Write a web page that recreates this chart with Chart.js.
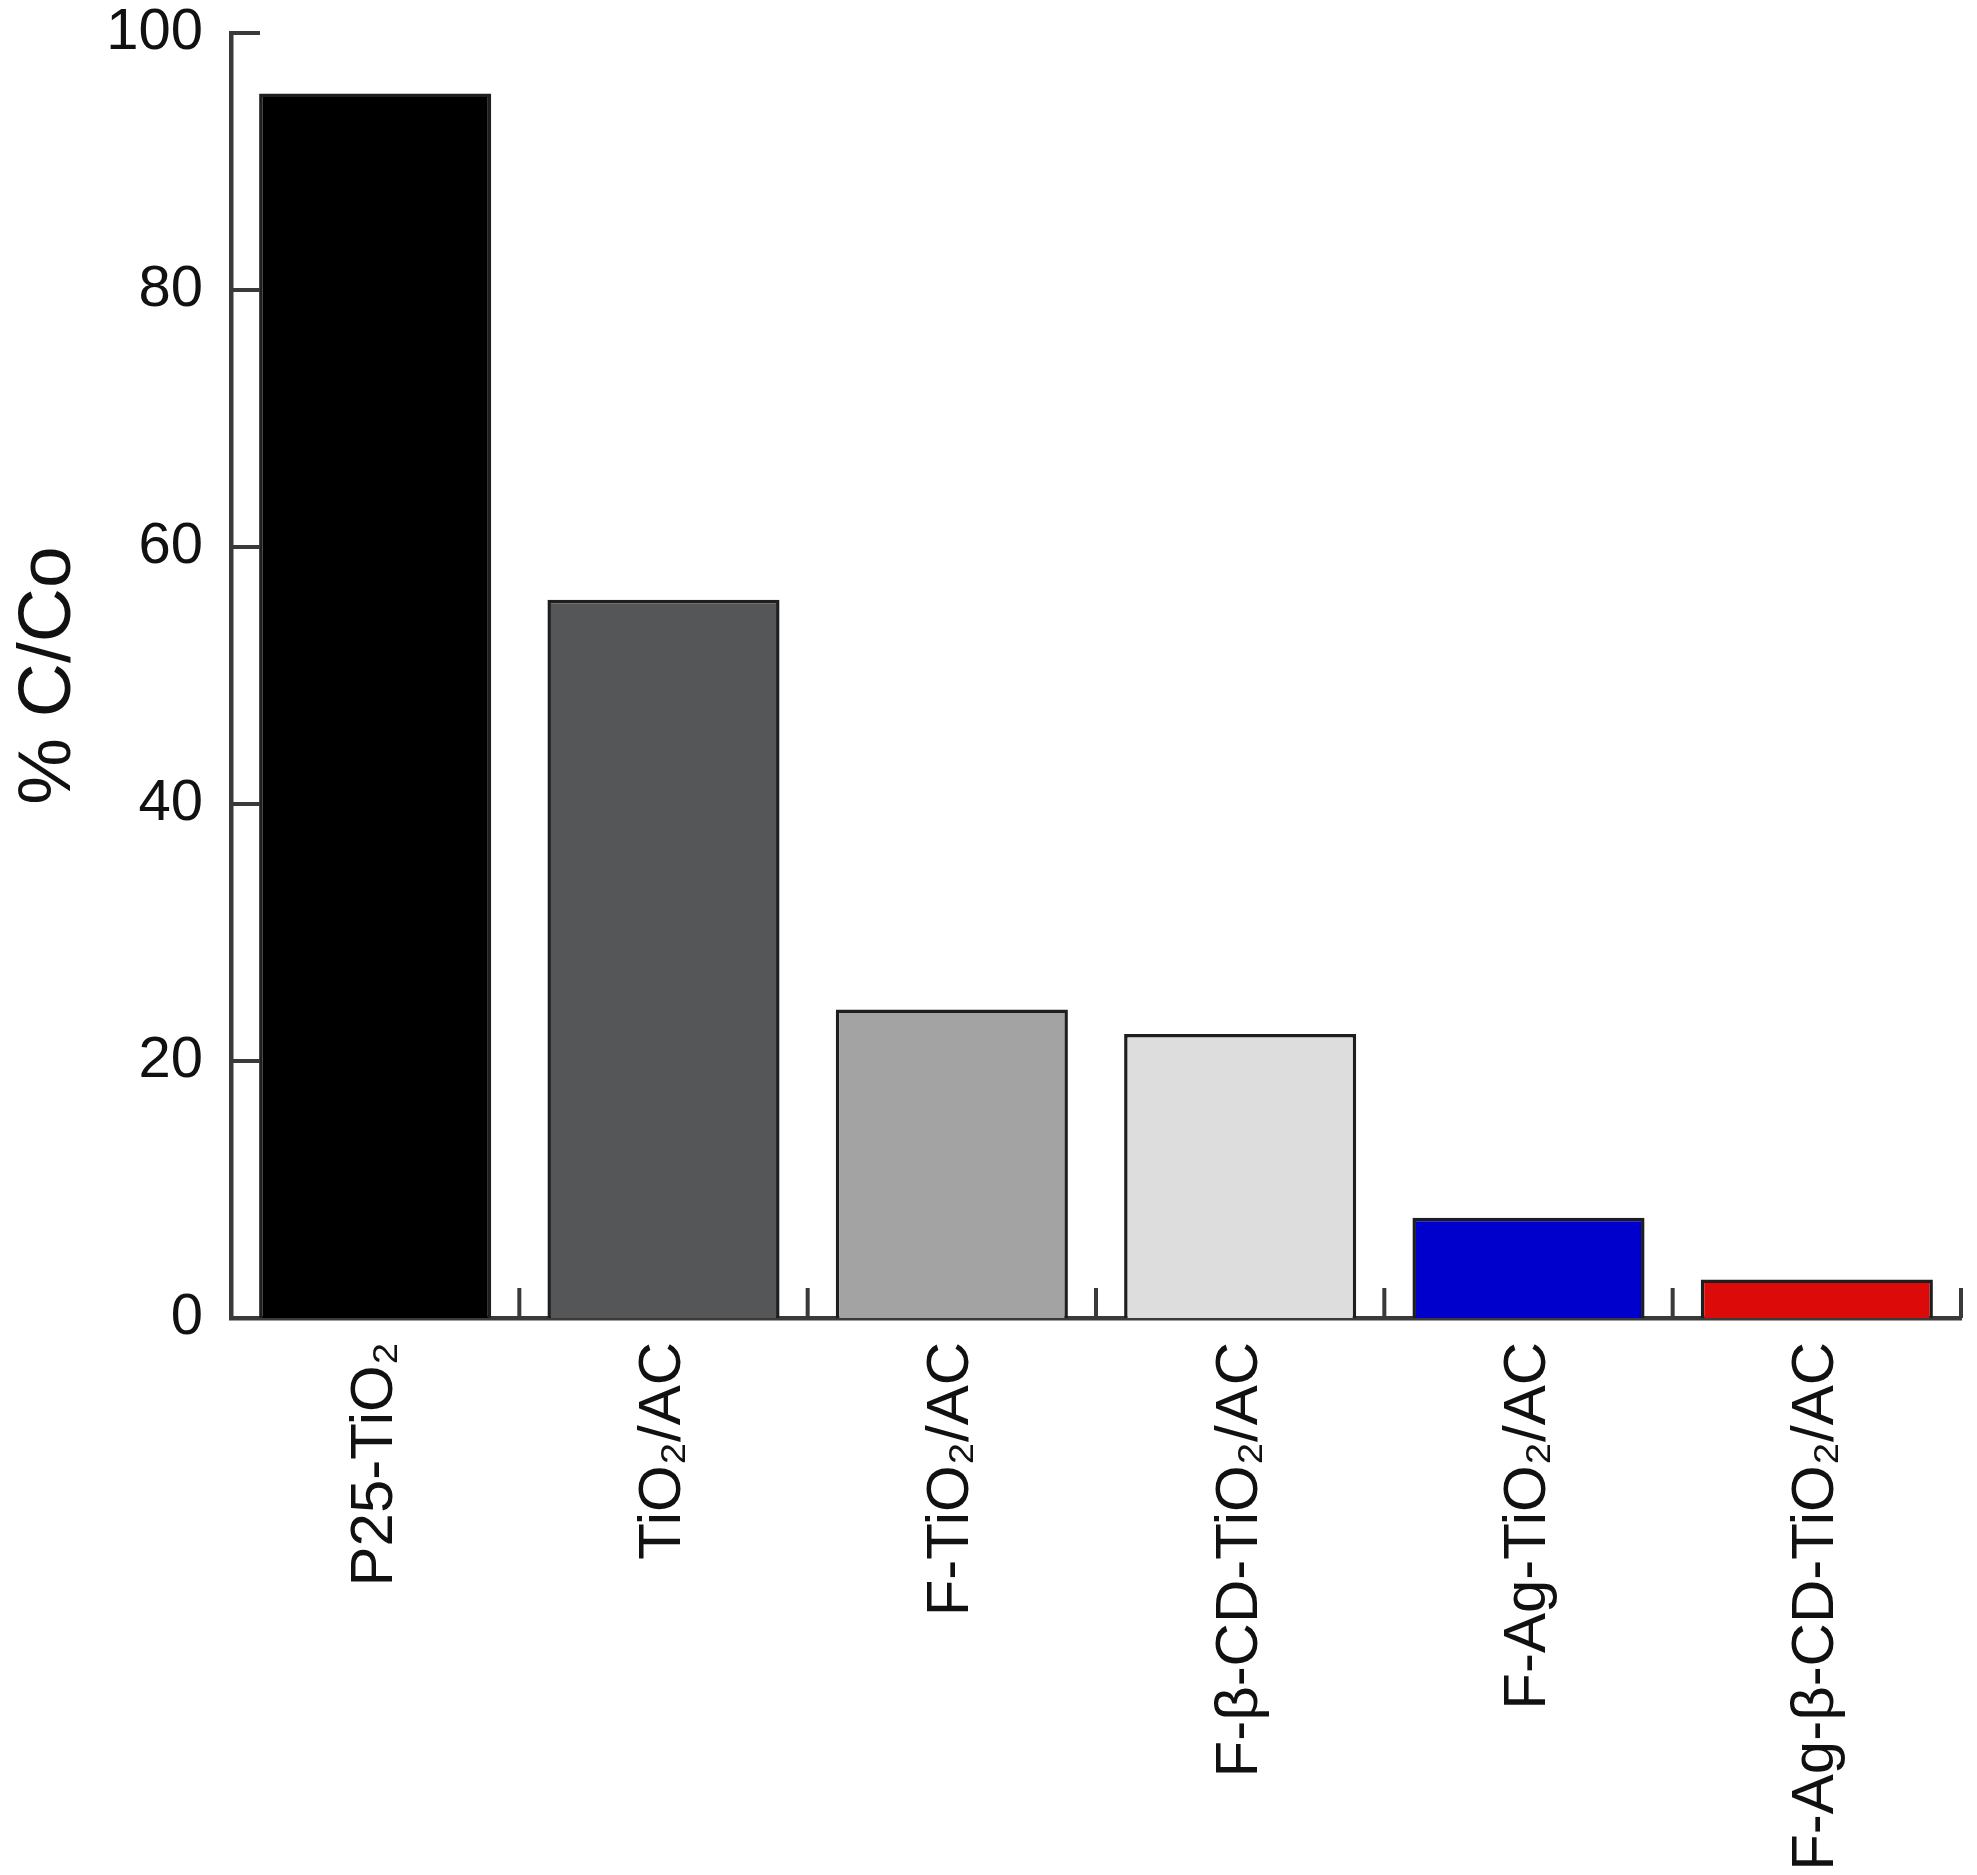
<!DOCTYPE html>
<html>
<head>
<meta charset="utf-8">
<script src="https://cdn.jsdelivr.net/npm/chart.js@4/dist/chart.umd.min.js"></script>
<style>
  html, body { margin: 0; padding: 0; background: #fff; }
  #wrap { width: 1977px; height: 1875px; }
</style>
</head>
<body>
<div id="wrap"><canvas id="c" width="1977" height="1875"></canvas></div>
<script>
const categories = ["P25-TiO₂", "TiO₂/AC", "F-TiO₂/AC", "F-β-CD-TiO₂/AC", "F-Ag-TiO₂/AC", "F-Ag-β-CD-TiO₂/AC"];
const values = [95.3, 55.9, 24.0, 22.1, 7.8, 3.0];
const barColors = ["#000000", "#555658", "#a3a3a3", "#dcdddc", "#0000cc", "#dd0a0a"];
const yTicks = [0, 20, 40, 60, 80, 100];
const yTitle = "% C/Co";

const AXIS = "#3a3a3a";
const FONT = "'Liberation Sans', Arial, sans-serif";

const tickPlugin = {
  id: "innerTicks",
  afterDatasetsDraw(chart) {
    const ctx = chart.ctx;
    const x = chart.scales.x, y = chart.scales.y;
    ctx.save();
    ctx.strokeStyle = AXIS;
    ctx.lineWidth = 4;
    ctx.lineCap = "butt";
    ctx.beginPath();
    yTicks.forEach(v => {
      const py = y.getPixelForValue(v);
      if (v === 0) return;
      ctx.moveTo(x.left, py);
      ctx.lineTo(x.left + 29, py);
    });
    for (let i = 0; i < categories.length; i++) {
      const px = x.getPixelForValue(i + 0.5);
      ctx.moveTo(px, y.bottom);
      ctx.lineTo(px, y.bottom - 30);
    }
    ctx.stroke();
    ctx.restore();
  }
};

new Chart(document.getElementById("c"), {
  type: "bar",
  data: {
    labels: categories,
    datasets: [{
      data: values,
      backgroundColor: barColors,
      borderColor: "#1e1e1e",
      borderWidth: 3.5,
      barPercentage: 0.805,
      categoryPercentage: 1.0
    }]
  },
  options: {
    responsive: false,
    animation: false,
    devicePixelRatio: 1,
    layout: { padding: { left: 0, top: 33, right: 16, bottom: 0 } },
    plugins: { legend: { display: false }, tooltip: { enabled: false } },
    scales: {
      x: {
        grid: { display: false },
        border: { display: true, color: AXIS, width: 4.5 },
        ticks: {
          color: "#111",
          font: { family: FONT, size: 60 },
          maxRotation: 90, minRotation: 90,
          padding: 16,
          autoSkip: false
        },
        afterFit(s) { s.height = 1875 - 1318; s.paddingLeft = 0; s.paddingRight = 0; }
      },
      y: {
        min: 0, max: 100,
        afterBuildTicks(s) { s.ticks = yTicks.map(v => ({ value: v })); },
        grid: { display: false },
        border: { display: true, color: AXIS, width: 4.5 },
        ticks: {
          color: "#111",
          font: { family: FONT, size: 58 },
          padding: 20
        },
        title: {
          display: true,
          text: yTitle,
          color: "#111",
          font: { family: FONT, size: 75 },
          padding: { top: 4, bottom: 0 }
        },
        afterFit(s) { s.width = 231; s.paddingTop = 0; s.paddingBottom = 0; }
      }
    }
  },
  plugins: [tickPlugin]
});
</script>
</body>
</html>
